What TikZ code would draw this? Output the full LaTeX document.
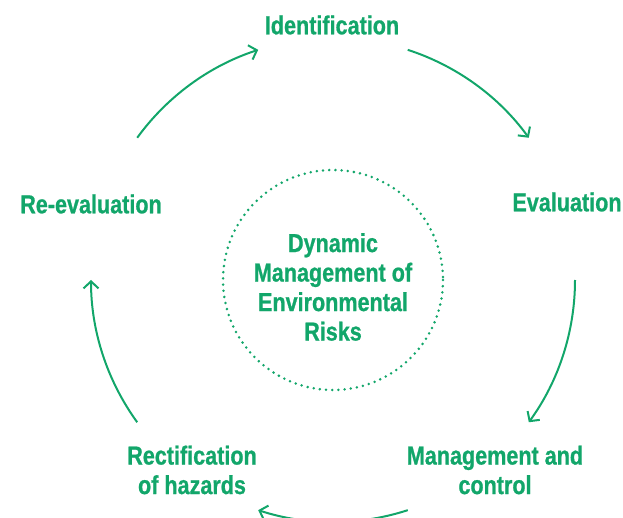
\documentclass[tikz,border=0pt]{standalone}
\usepackage{fontspec}
\setmainfont{Liberation Sans}[FakeStretch=0.83, BoldFeatures={FakeBold=0.8}]
\usetikzlibrary{arrows.meta,calc}
\definecolor{eco}{RGB}{18,166,106}
\tikzset{
  lbl/.style={text=eco, font=\fontsize{26}{29.5}\selectfont\bfseries, align=center, inner sep=0pt},
  cyc/.style={draw=eco, line width=2pt, -{Straight Barb[length=7pt,width=15pt,line width=2pt]}},
  dotring/.style={draw=eco, line width=2.8pt, line cap=round, dash pattern=on 0pt off 6.2pt}
}
\begin{document}
\begin{tikzpicture}[x=1pt,y=-1pt]
\useasboundingbox (0,0) rectangle (623,518);
\coordinate (c) at (333,280);
\node[lbl] (ident) at (332,25) {Identification};
\node[lbl] (eval) at (567,202) {Evaluation};
\node[lbl] (mgmt) at (495,470) {Management and\\control};
\node[lbl] (rect) at (192,470) {Rectification\\of hazards};
\node[lbl] (reev) at (91,204) {Re-evaluation};
\node[lbl] (core) at (333,287) {Dynamic\\Management of\\Environmental\\Risks};
\draw[dotring] (c) circle[radius=110];
% start points of the cycle arcs (radius 242 around c; y axis points down)
\coordinate (s1) at ($(c)+(-72:242)$);
\coordinate (s2) at ($(c)+(0:242)$);
\coordinate (s3) at ($(c)+(72:242)$);
\coordinate (s4) at ($(c)+(144:242)$);
\coordinate (s5) at ($(c)+(-144:242)$);
\draw[cyc] (s1) arc[start angle=-72, end angle=-36, radius=242];
\draw[cyc] (s2) arc[start angle=0, end angle=36, radius=242];
\draw[cyc] (s3) arc[start angle=72, end angle=108, radius=242];
\draw[cyc] (s4) arc[start angle=144, end angle=180, radius=242];
\draw[cyc] (s5) arc[start angle=-144, end angle=-108, radius=242];
\end{tikzpicture}
\end{document}
